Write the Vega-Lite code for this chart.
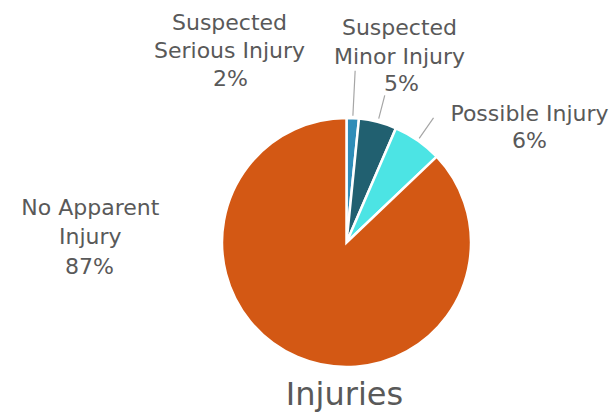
{
  "$schema": "https://vega.github.io/schema/vega-lite/v6.json",
  "width": 249,
  "height": 249,
  "autosize": "none",
  "padding": {"left": 222, "top": 118, "right": 142, "bottom": 50},
  "background": "white",
  "title": {"text": "Injuries", "orient": "bottom", "anchor": "middle", "frame": "group", "fontSize": 32, "font": "DejaVu Sans", "fontWeight": "normal", "color": "#595959", "offset": 8, "dx": -2},
  "data": {"values": [
    {"cat": "Suspected Serious Injury", "label": "Suspected\nSerious Injury", "value": 0.016, "idx": 1},
    {"cat": "Suspected Minor Injury", "label": "Suspected\nMinor Injury", "value": 0.049, "idx": 2},
    {"cat": "Possible Injury", "label": "Possible Injury", "value": 0.064, "idx": 3},
    {"cat": "No Apparent Injury", "label": "No Apparent\nInjury", "value": 0.871, "idx": 4}
  ]},
  "transform": [
    {"stack": "value", "groupby": [], "sort": [{"field": "idx", "order": "ascending"}], "as": ["v0", "v1"]},
    {"fold": ["v0", "v1"], "as": ["k", "v"]},
    {"aggregate": [{"op": "mean", "field": "v", "as": "mid"}], "groupby": ["cat", "label", "value", "idx"]}
  ],
  "layer": [
    {
      "mark": {"type": "arc", "stroke": "white", "strokeWidth": 2.5},
      "encoding": {
        "theta": {"field": "value", "type": "quantitative", "stack": true},
        "order": {"field": "idx", "type": "quantitative"},
        "color": {"field": "cat", "type": "nominal", "legend": null,
          "scale": {"domain": ["Suspected Serious Injury", "Suspected Minor Injury", "Possible Injury", "No Apparent Injury"],
                    "range": ["#2F8DB8", "#216070", "#4CE4E4", "#D35814"]}}
      }
    },
    {
      "transform": [{"filter": "datum.cat === 'Suspected Serious Injury'"}],
      "mark": {"type": "arc", "filled": false, "stroke": "#A6A6A6", "strokeWidth": 1.2, "radius": 172, "radius2": 127},
      "encoding": {"theta": {"field": "mid", "type": "quantitative"}, "theta2": {"field": "mid"}}
    },
    {
      "transform": [{"filter": "datum.cat === 'Suspected Minor Injury'"}],
      "mark": {"type": "arc", "filled": false, "stroke": "#A6A6A6", "strokeWidth": 1.2, "radius": 152, "radius2": 128},
      "encoding": {"theta": {"field": "mid", "type": "quantitative"}, "theta2": {"field": "mid"}}
    },
    {
      "transform": [{"filter": "datum.cat === 'Possible Injury'"}],
      "mark": {"type": "arc", "filled": false, "stroke": "#A6A6A6", "strokeWidth": 1.2, "radius": 152, "radius2": 127},
      "encoding": {"theta": {"field": "mid", "type": "quantitative"}, "theta2": {"field": "mid"}}
    },
    {
      "transform": [{"filter": "datum.cat === 'Suspected Serious Injury'"}],
      "mark": {"type": "text", "radius": 150, "dx": -124.5, "dy": -69.7, "fontSize": 22, "color": "#595959", "lineBreak": "\n", "lineHeight": 28.5, "align": "center", "baseline": "middle"},
      "encoding": {"theta": {"field": "mid", "type": "quantitative"}, "text": {"field": "label"}}
    },
    {
      "transform": [{"filter": "datum.cat === 'Suspected Serious Injury'"}],
      "mark": {"type": "text", "radius": 150, "dx": -123.5, "dy": -13.5, "fontSize": 22, "color": "#595959", "align": "center", "baseline": "middle"},
      "encoding": {"theta": {"field": "mid", "type": "quantitative"}, "text": {"field": "value", "type": "quantitative", "format": ".0%"}}
    },
    {
      "transform": [{"filter": "datum.cat === 'Suspected Minor Injury'"}],
      "mark": {"type": "text", "radius": 150, "dx": 15.2, "dy": -69.3, "fontSize": 22, "color": "#595959", "lineBreak": "\n", "lineHeight": 28.5, "align": "center", "baseline": "middle"},
      "encoding": {"theta": {"field": "mid", "type": "quantitative"}, "text": {"field": "label"}}
    },
    {
      "transform": [{"filter": "datum.cat === 'Suspected Minor Injury'"}],
      "mark": {"type": "text", "radius": 150, "dx": 17.2, "dy": -13, "fontSize": 22, "color": "#595959", "align": "center", "baseline": "middle"},
      "encoding": {"theta": {"field": "mid", "type": "quantitative"}, "text": {"field": "value", "type": "quantitative", "format": ".0%"}}
    },
    {
      "transform": [{"filter": "datum.cat === 'Possible Injury'"}],
      "mark": {"type": "text", "radius": 150, "dx": 97.1, "dy": -5.7, "fontSize": 22, "color": "#595959", "align": "center", "baseline": "middle"},
      "encoding": {"theta": {"field": "mid", "type": "quantitative"}, "text": {"field": "label"}}
    },
    {
      "transform": [{"filter": "datum.cat === 'Possible Injury'"}],
      "mark": {"type": "text", "radius": 150, "dx": 97.1, "dy": 21.8, "fontSize": 22, "color": "#595959", "align": "center", "baseline": "middle"},
      "encoding": {"theta": {"field": "mid", "type": "quantitative"}, "text": {"field": "value", "type": "quantitative", "format": ".0%"}}
    },
    {
      "transform": [{"filter": "datum.cat === 'No Apparent Injury'"}],
      "mark": {"type": "text", "radius": 150, "dx": -197, "dy": -172, "fontSize": 22, "color": "#595959", "lineBreak": "\n", "lineHeight": 28.5, "align": "center", "baseline": "middle"},
      "encoding": {"theta": {"field": "mid", "type": "quantitative"}, "text": {"field": "label"}}
    },
    {
      "transform": [{"filter": "datum.cat === 'No Apparent Injury'"}],
      "mark": {"type": "text", "radius": 150, "dx": -198, "dy": -113.2, "fontSize": 22, "color": "#595959", "align": "center", "baseline": "middle"},
      "encoding": {"theta": {"field": "mid", "type": "quantitative"}, "text": {"field": "value", "type": "quantitative", "format": ".0%"}}
    }
  ],
  "config": {"view": {"stroke": null}, "font": "DejaVu Sans"}
}
